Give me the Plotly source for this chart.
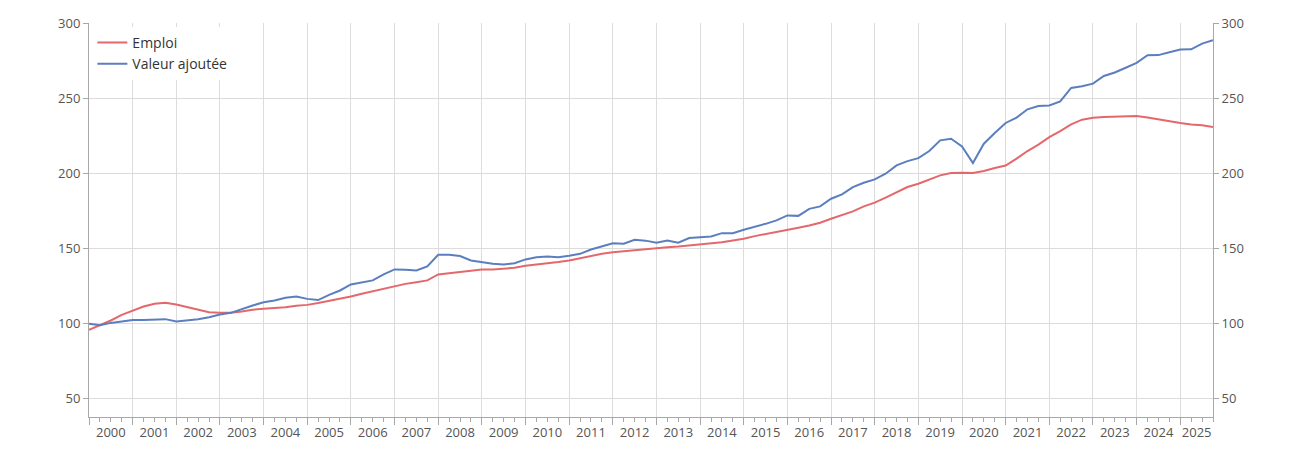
import plotly.graph_objects as go

# Quarterly index values, 2000 Q1 .. 2025 Q4 (base 100 ~ 2000)
start_year = 2000
emploi = [
    95.6, 98.5, 101.8, 105.6, 108.5, 111.1, 112.9, 113.6,
    112.5, 110.7, 108.9, 107.3, 106.9, 106.9, 107.8, 109.0,
    109.6, 110.0, 110.7, 111.6, 112.2, 113.4, 114.7, 116.2,
    117.8, 119.6, 121.3, 122.9, 124.7, 126.2, 127.3, 128.5,
    132.5, 133.3, 134.5, 135.3, 135.8, 135.8, 136.2, 136.9,
    138.3, 139.0, 139.6, 140.7, 141.8, 143.3, 145.1, 146.2,
    147.3, 148.0, 148.9, 149.6, 150.2, 150.6, 151.1, 151.8,
    152.2, 153.3, 154.0, 155.1, 156.2, 158.0, 159.3, 160.6,
    162.0, 163.6, 165.1, 166.9, 169.6, 171.8, 174.5, 177.8,
    180.3, 183.6, 187.3, 190.7, 192.9, 195.6, 198.5, 200.0,
    200.3, 200.0, 201.4, 203.4, 205.0, 209.6, 214.7, 219.0,
    224.0, 228.0, 232.5, 235.6, 236.8, 237.4, 237.7, 238.0,
    238.0, 237.0, 235.8, 234.2, 233.3, 232.4, 231.8, 230.7,
]
valeur_ajoutee = [
    99.6, 98.7, 100.2, 101.3, 102.2, 102.2, 102.7, 102.7,
    101.1, 101.8, 102.7, 104.0, 105.8, 106.9, 109.6, 111.8,
    114.0, 115.1, 116.9, 117.8, 116.2, 115.4, 118.9, 121.8,
    125.8, 127.3, 128.5, 132.5, 135.8, 135.6, 135.1, 137.8,
    145.6, 145.6, 144.7, 141.8, 140.7, 139.6, 139.1, 140.0,
    142.5, 144.0, 144.5, 144.0, 145.0, 146.2, 149.1, 151.1,
    153.3, 153.0, 155.6, 155.0, 153.6, 155.1, 153.6, 156.7,
    157.3, 157.8, 160.0, 160.0, 162.2, 164.0, 166.2, 168.5,
    171.8, 171.5, 176.2, 177.8, 182.9, 185.8, 190.7, 193.6,
    195.8, 199.6, 205.1, 208.0, 210.0, 214.7, 221.8, 222.9,
    217.8, 206.7, 219.6, 226.7, 233.4, 237.0, 242.5, 244.7,
    245.0, 247.7, 256.7, 257.8, 259.6, 264.7, 267.0, 270.2,
    273.4, 278.5, 278.6, 280.5, 282.3, 282.5, 286.3, 288.5,
]
years = list(range(2000, 2026))
year_labels = [str(y) for y in years]
y_ticks = [50, 100, 150, 200, 250, 300]

x = [start_year + i / 4 for i in range(len(emploi))]
x_range = [2000, 2025.75]
y_range = [37.5, 300]
label_pos = [y + 0.5 for y in years[:-1]] + [(years[-1] + x_range[1]) / 2]

RED = "#e4686b"
BLUE = "#5b7fbe"
GRID = "#dcdcdc"
AXIS = "#a8a8a8"
TXT = "#555555"
FONT = "Open Sans"

fig = go.Figure()
fig.add_trace(go.Scatter(x=x, y=emploi, mode="lines", name="Emploi",
                         line=dict(color=RED, width=2)))
fig.add_trace(go.Scatter(x=x, y=valeur_ajoutee, mode="lines", name="Valeur ajoutée",
                         line=dict(color=BLUE, width=2)))
# invisible trace to anchor right axis
fig.add_trace(go.Scatter(x=x, y=emploi, yaxis="y2", mode="lines",
                         line=dict(width=0), showlegend=False, hoverinfo="skip",
                         opacity=0))
# invisible trace to anchor label axis
fig.add_trace(go.Scatter(x=[x_range[0]], y=[y_range[0]], xaxis="x2", mode="markers",
                         marker=dict(opacity=0), showlegend=False, hoverinfo="skip"))

# page body has an 8px margin: shrink figure and margins accordingly
fig.update_layout(
    width=1288, height=442,
    margin=dict(l=81, r=83, t=15, b=33, autoexpand=False),
    paper_bgcolor="white", plot_bgcolor="white",
    font=dict(family=FONT, size=13, color=TXT),
    showlegend=True,
    legend=dict(x=0.003, y=0.99, xanchor="left", yanchor="top",
                bgcolor="white", font=dict(size=14, color="#333333"),
                itemwidth=30, tracegroupgap=0),
    xaxis=dict(range=x_range, tickmode="array", tickvals=years,
               ticktext=["" for _ in years], showgrid=True, gridcolor=GRID,
               showline=True, linecolor=AXIS, ticks="outside", ticklen=7,
               tickcolor=AXIS, zeroline=False, automargin=False,
               minor=dict(dtick=0.25, tick0=2000, ticks="outside", ticklen=4,
                          tickcolor=AXIS, showgrid=False)),
    xaxis2=dict(range=x_range, overlaying="x", side="bottom", tickmode="array",
                tickvals=label_pos, ticktext=year_labels, showgrid=False,
                showline=False, ticks="outside", ticklen=3, tickcolor="rgba(0,0,0,0)",
                zeroline=False, automargin=False, tickfont=dict(size=13, color=TXT)),
    yaxis=dict(range=y_range, tickmode="array", tickvals=y_ticks,
               showgrid=True, gridcolor=GRID, showline=True, linecolor=AXIS,
               ticks="outside", ticklen=5, tickcolor=AXIS, zeroline=False,
               automargin=False, tickfont=dict(size=13, color=TXT)),
    yaxis2=dict(range=y_range, overlaying="y", side="right", tickmode="array",
                tickvals=y_ticks, showgrid=False, showline=True, linecolor=AXIS,
                ticks="outside", ticklen=5, tickcolor=AXIS, zeroline=False,
                automargin=False, tickfont=dict(size=13, color=TXT)),
)

fig.write_html("out.html")
